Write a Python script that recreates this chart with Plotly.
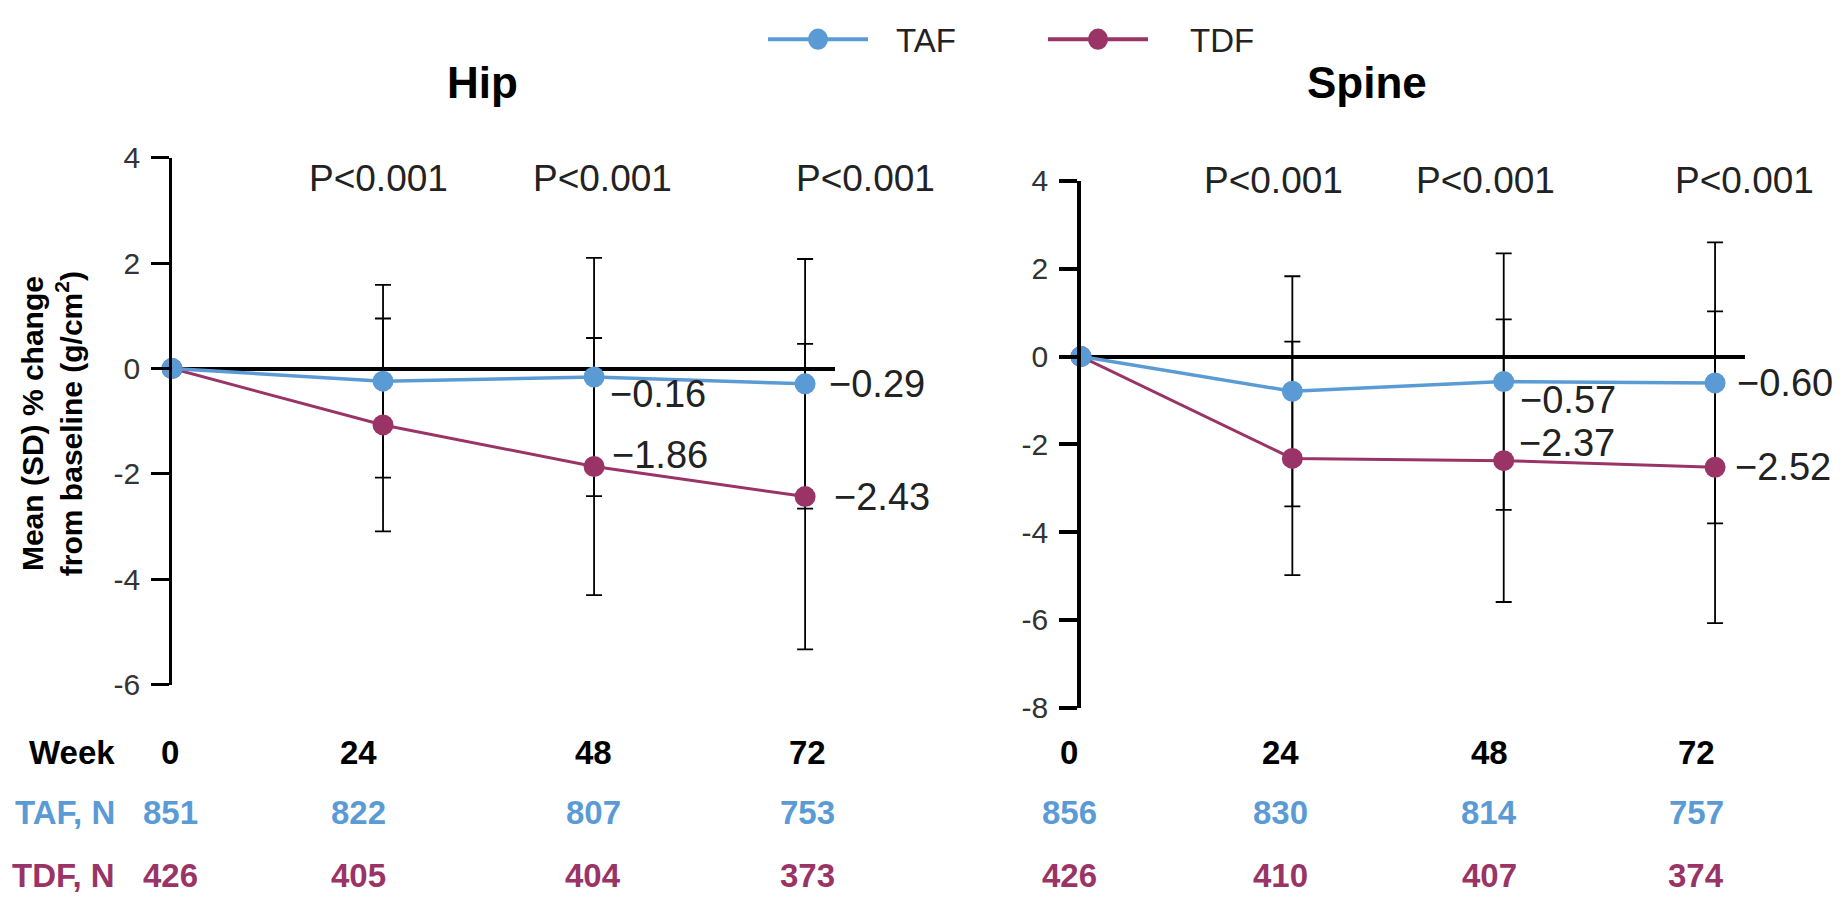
import plotly.graph_objects as go

# ---- data -------------------------------------------------------------
weeks = [0, 24, 48, 72]
week_labels = ["0", "24", "48", "72"]

hip_taf_mean = [0.0, -0.24, -0.16, -0.29]
hip_taf_sd = [None, 1.83, 2.26, 2.37]
hip_tdf_mean = [0.0, -1.07, -1.86, -2.43]
hip_tdf_sd = [None, 2.02, 2.44, 2.90]

spine_taf_mean = [0.0, -0.79, -0.57, -0.60]
spine_taf_sd = [None, 2.62, 2.92, 3.20]
spine_tdf_mean = [0.0, -2.32, -2.37, -2.52]
spine_tdf_sd = [None, 2.66, 3.22, 3.55]

hip_taf_n = [851, 822, 807, 753]
hip_tdf_n = [426, 405, 404, 373]
spine_taf_n = [856, 830, 814, 757]
spine_tdf_n = [426, 410, 407, 374]

p_weeks = [24, 48, 72]
hip_p = ["P<0.001", "P<0.001", "P<0.001"]
spine_p = ["P<0.001", "P<0.001", "P<0.001"]

hip_ticks = [-6, -4, -2, 0, 2, 4]
spine_ticks = [-8, -6, -4, -2, 0, 2, 4]

# ---- styling ----------------------------------------------------------
W, H = 1845, 910
TAF_C = "#5B9BD5"
TDF_C = "#9B3466"
TXT = "#222222"
FONT = "Liberation Sans, Arial, Helvetica, sans-serif"


def px(x):
    return x / W


def py(y):
    return 1 - y / H


fig = go.Figure()

panels = [
    dict(xa="x", ya="y", taf=(hip_taf_mean, hip_taf_sd), tdf=(hip_tdf_mean, hip_tdf_sd)),
    dict(xa="x2", ya="y2", taf=(spine_taf_mean, spine_taf_sd), tdf=(spine_tdf_mean, spine_tdf_sd)),
]

for p in panels:
    # SD bars underneath the lines
    for mean, sd in (p["tdf"], p["taf"]):
        fig.add_trace(go.Scatter(
            x=weeks, y=mean, xaxis=p["xa"], yaxis=p["ya"], mode="markers",
            marker=dict(size=1, opacity=0), cliponaxis=False, hoverinfo="skip",
            error_y=dict(type="data", array=sd, visible=True, color="black",
                         thickness=1.8, width=8),
            showlegend=False))
    for (mean, sd), col, lw, name in ((p["tdf"], TDF_C, 3, "TDF"), (p["taf"], TAF_C, 3.5, "TAF")):
        fig.add_trace(go.Scatter(
            x=weeks, y=mean, xaxis=p["xa"], yaxis=p["ya"], mode="lines+markers",
            line=dict(color=col, width=lw), marker=dict(color=col, size=21),
            cliponaxis=False, name=name, showlegend=False))

# ---- axes ---------------------------------------------------------------
xcommon = dict(range=[0, 75.4], visible=False, showgrid=False, zeroline=False)
fig.update_layout(
    xaxis=dict(domain=[px(172), px(835)], anchor="y", **xcommon),
    xaxis2=dict(domain=[px(1081), px(1745)], anchor="y2", **xcommon),
)


def yaxis_style(ticks, dom, lw):
    return dict(
        domain=dom, range=[ticks[0], ticks[-1]], tickvals=ticks,
        ticktext=[str(t) for t in ticks], showgrid=False,
        showline=True, linecolor="black", linewidth=lw,
        ticks="outside", ticklen=18, tickwidth=lw, tickcolor="black",
        tickfont=dict(family=FONT, size=30, color="#333333"),
        ticklabelstandoff=5,
        zeroline=True, zerolinecolor="black", zerolinewidth=3.5,
    )


fig.update_layout(
    yaxis=dict(anchor="x", **yaxis_style(hip_ticks, [py(693), py(147)], 2.5)),
    yaxis2=dict(anchor="x2", **yaxis_style(spine_ticks, [py(717), py(171)], 3.5)),
)

ann = []

# panel titles
for text, cx in (("Hip", 482), ("Spine", 1367)):
    ann.append(dict(text=text, x=px(cx), y=py(69), xref="paper", yref="paper",
                    xanchor="center", yanchor="middle", showarrow=False,
                    font=dict(family=FONT, size=44, color="black", weight="bold")))

# y-axis title
ann.append(dict(text="Mean (SD) % change<br>from baseline (g/cm<sup>2</sup>)",
                x=px(52), y=py(423), xref="paper", yref="paper", textangle=-90,
                xanchor="center", yanchor="middle", showarrow=False,
                font=dict(family=FONT, size=30, color="black", weight="bold")))

# p-values above the time points
for xa, labels, shifts, ytop in (("x", hip_p, [-5, 8, 60], 168), ("x2", spine_p, [-19, -18, 29], 170)):
    for wk, lab, sh in zip(p_weeks, labels, shifts):
        ann.append(dict(text=lab, x=wk, xref=xa, y=py(ytop), yref="paper", xshift=sh,
                        xanchor="center", yanchor="middle", showarrow=False,
                        font=dict(family=FONT, size=37, color=TXT)))

# mean value labels at weeks 48 and 72
value_labels = [
    ("x", "y", hip_taf_mean, {2: (14, -17), 3: (22, 0)}),
    ("x", "y", hip_tdf_mean, {2: (16, 12), 3: (27, 0)}),
    ("x2", "y2", spine_taf_mean, {2: (14, -18), 3: (20, 0)}),
    ("x2", "y2", spine_tdf_mean, {2: (13, 18), 3: (18, 0)}),
]
for xa, ya, mean, offs in value_labels:
    for i, (dx, dy) in offs.items():
        ann.append(dict(text="\u2212" + f"{abs(mean[i]):.2f}", x=weeks[i], y=mean[i],
                        xref=xa, yref=ya, xshift=dx, yshift=dy,
                        xanchor="left", yanchor="middle", showarrow=False,
                        font=dict(family=FONT, size=38, color=TXT)))

# numbers-at-risk table
row_y = [763, 826, 891]
row_names = [("Week", "black"), ("TAF, N", TAF_C), ("TDF, N", TDF_C)]
for (name, col), ry in zip(row_names, row_y):
    ann.append(dict(text=name, x=px(117), y=py(ry), xref="paper", yref="paper",
                    xanchor="right", yanchor="middle", showarrow=False,
                    font=dict(family=FONT, size=33, color=col, weight="bold")))

hip_cols = [170, 358, 593, 807]
spine_cols = [1069, 1280, 1489, 1696]
for cols, taf_n, tdf_n in ((hip_cols, hip_taf_n, hip_tdf_n), (spine_cols, spine_taf_n, spine_tdf_n)):
    for cx, wl, a, b in zip(cols, week_labels, taf_n, tdf_n):
        for txt, col, ry in ((wl, "black", row_y[0]), (str(a), TAF_C, row_y[1]), (str(b), TDF_C, row_y[2])):
            ann.append(dict(text=txt, x=px(cx), y=py(ry), xref="paper", yref="paper",
                            xanchor="center", yanchor="middle", showarrow=False,
                            font=dict(family=FONT, size=33, color=col, weight="bold")))

# legend
shapes = []
for name, col, x0, tx in (("TAF", TAF_C, 768, 894), ("TDF", TDF_C, 1048, 1188)):
    shapes.append(dict(type="line", xref="paper", yref="paper", x0=px(x0), x1=px(x0 + 100),
                       y0=py(24), y1=py(24), line=dict(color=col, width=4)))
    shapes.append(dict(type="circle", xref="paper", yref="paper", x0=px(x0 + 40), x1=px(x0 + 60),
                       y0=py(35), y1=py(13), fillcolor=col, line=dict(color=col, width=0)))
    ann.append(dict(text=name, x=px(tx), y=py(25), xref="paper", yref="paper",
                    xanchor="left", yanchor="middle", showarrow=False,
                    font=dict(family=FONT, size=33, color=TXT)))

fig.update_layout(
    width=W, height=H, margin=dict(l=0, r=0, t=0, b=0),
    paper_bgcolor="white", plot_bgcolor="white",
    showlegend=False, annotations=ann, shapes=shapes,
    font=dict(family=FONT),
)

fig.write_html("out.html")
